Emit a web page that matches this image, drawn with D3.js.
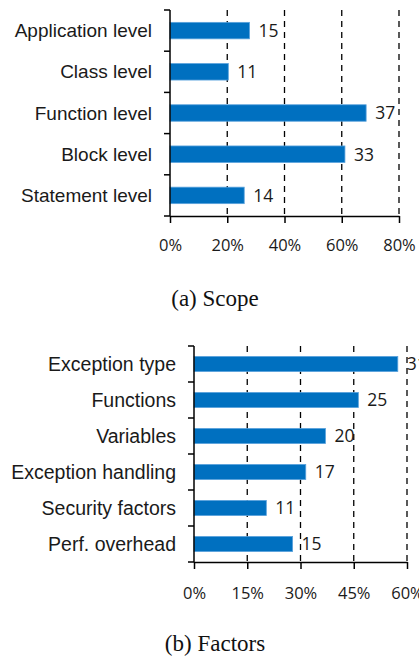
<!DOCTYPE html>
<html>
<head>
<meta charset="utf-8">
<title>Scope and factors</title>
<script src="https://d3js.org/d3.v7.min.js"></script>
<style>
  body { margin: 0; background: #fff; }
  svg { display: block; }
</style>
</head>
<body>
<svg width="419" height="656"></svg>
<script>
// total number of studies, bars are share of it
const total = 54;

const scopeCats = ['Application level', 'Class level', 'Function level', 'Block level', 'Statement level'];
const scopeCounts = [15, 11, 37, 33, 14];
const scopeTicks = [0, 0.2, 0.4, 0.6, 0.8];

const factorCats = ['Exception type', 'Functions', 'Variables', 'Exception handling', 'Security factors', 'Perf. overhead'];
const factorCounts = [31, 25, 20, 17, 11, 15];
const factorTicks = [0, 0.15, 0.3, 0.45, 0.6];

const svg = d3.select('svg');
const blue = '#0070c0';

function drawPanel(cfg) {
  const g = svg.append('g');
  const data = cfg.cats.map((c, i) => ({ cat: c, n: cfg.counts[i], p: cfg.counts[i] / total }));

  const x = d3.scaleLinear()
    .domain([0, cfg.ticks[cfg.ticks.length - 1]])
    .range([cfg.left, cfg.right]);

  const y = d3.scaleBand()
    .domain(cfg.cats)
    .range([cfg.top, cfg.bottom])
    .paddingInner(cfg.padIn)
    .paddingOuter(cfg.padIn / 2);

  // dashed grid
  g.selectAll('.grid')
    .data(cfg.ticks.slice(1))
    .join('line')
    .attr('x1', d => x(d)).attr('x2', d => x(d))
    .attr('y1', cfg.top).attr('y2', cfg.bottom)
    .attr('stroke', '#000')
    .attr('stroke-width', 1.3)
    .attr('stroke-dasharray', '6,5');

  // bars
  g.selectAll('rect')
    .data(data)
    .join('rect')
    .attr('x', x(0))
    .attr('y', d => y(d.cat))
    .attr('width', d => x(d.p) - x(0))
    .attr('height', y.bandwidth())
    .attr('fill', blue)
    .attr('stroke', '#5aa2dc')
    .attr('stroke-width', 0.8);

  // value labels
  g.selectAll('.val')
    .data(data)
    .join('text')
    .attr('x', d => x(d.p) + 9)
    .attr('y', d => y(d.cat) + y.bandwidth() / 2)
    .attr('dy', '0.36em')
    .attr('font-family', '"Open Sans", sans-serif')
    .attr('font-size', 17.5)
    .attr('fill', '#1a1a1a')
    .text(d => d.n);

  // category labels
  g.selectAll('.cat')
    .data(data)
    .join('text')
    .attr('x', cfg.left - 18)
    .attr('y', d => y(d.cat) + y.bandwidth() / 2)
    .attr('dy', '0.35em')
    .attr('text-anchor', 'end')
    .attr('font-family', '"Liberation Sans", Arial, sans-serif')
    .attr('font-size', cfg.catSize)
    .attr('fill', '#1a1a1a')
    .text(d => d.cat);

  // x axis
  const xAxis = g.append('g')
    .attr('transform', `translate(0,${cfg.bottom})`)
    .call(d3.axisBottom(x)
      .tickValues(cfg.ticks)
      .tickSize(7)
      .tickSizeOuter(0)
      .tickPadding(cfg.tickPad)
      .tickFormat(d3.format('.0%')));
  xAxis.select('.domain').attr('stroke', '#000').attr('stroke-width', 1.5);
  xAxis.selectAll('.tick line').attr('stroke', '#000').attr('stroke-width', 1.5);
  xAxis.selectAll('text')
    .attr('font-family', '"Open Sans", sans-serif')
    .attr('font-size', 16.5)
    .attr('fill', '#1a1a1a');

  // y axis line with ticks between bands
  const step = y.step();
  const bounds = d3.range(cfg.cats.length + 1).map(i => cfg.top + i * step);
  g.append('line')
    .attr('x1', x(0)).attr('x2', x(0))
    .attr('y1', cfg.top).attr('y2', cfg.bottom)
    .attr('stroke', '#000').attr('stroke-width', 1.5);
  g.selectAll('.ytick')
    .data(bounds)
    .join('line')
    .attr('x1', x(0) - 6).attr('x2', x(0))
    .attr('y1', d => d).attr('y2', d => d)
    .attr('stroke', '#000').attr('stroke-width', 1.5);

  // caption
  g.append('text')
    .attr('x', 215)
    .attr('y', cfg.captionY)
    .attr('text-anchor', 'middle')
    .attr('font-family', '"Liberation Serif", "Times New Roman", serif')
    .attr('font-size', 23)
    .attr('fill', '#111')
    .text(cfg.caption);
}

drawPanel({
  cats: scopeCats, counts: scopeCounts, ticks: scopeTicks,
  left: 170, right: 399, top: 10, bottom: 216,
  padIn: 0.6, catSize: 19, tickPad: 16,
  caption: '(a) Scope', captionY: 306
});

drawPanel({
  cats: factorCats, counts: factorCounts, ticks: factorTicks,
  left: 194, right: 407, top: 346, bottom: 562,
  padIn: 0.58, catSize: 19.5, tickPad: 18,
  caption: '(b) Factors', captionY: 651
});
</script>
</body>
</html>
